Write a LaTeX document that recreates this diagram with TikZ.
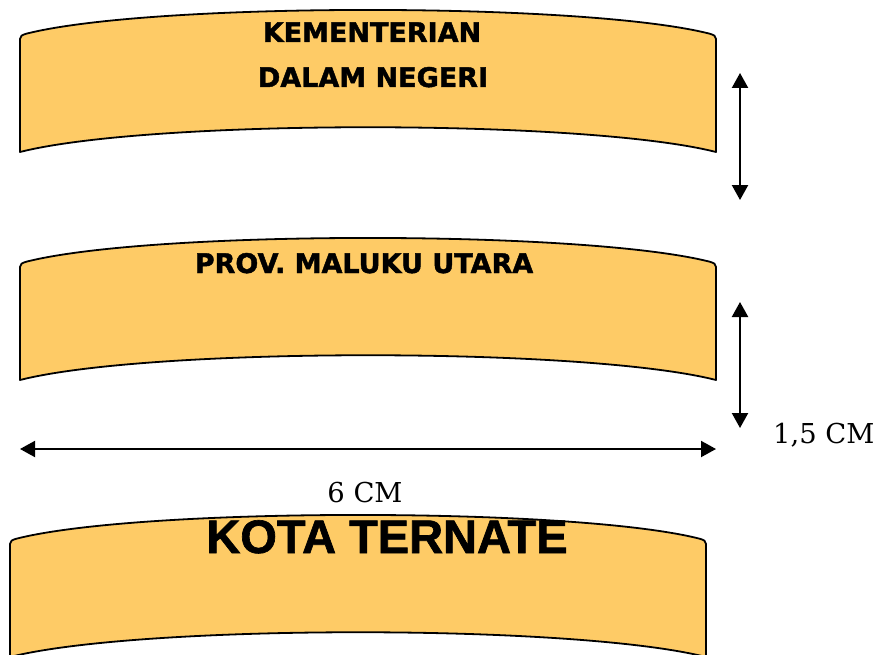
\documentclass[tikz,border=0pt]{standalone}
\usepackage{fontspec}
\usepackage{tikz}
\usetikzlibrary{arrows.meta,calc}

\newfontfamily\bannerfont[BoldFeatures={FakeBold=1.6}]{DejaVu Sans}
\newfontfamily\cityfont[BoldFeatures={FakeBold=1.4}]{Liberation Sans}
\newfontfamily\sizefont{DejaVu Serif}

\definecolor{bannerfill}{RGB}{254,203,102}

% Banner: left x, top corner y, width
\newcommand{\banner}[3]{%
  \filldraw[banner]
    (#1,#2+117) -- (#1,#2+4)
    .. controls (#1,#2+1) and (#1+2,#2) .. (#1+6,#2-1.2)
    .. controls (#1+130,#2-33) and (#1+#3-130,#2-33) .. (#1+#3-6,#2-1.2)
    .. controls (#1+#3-2,#2) and (#1+#3,#2+1) .. (#1+#3,#2+4)
    -- (#1+#3,#2+117)
    .. controls (#1+#3-130,#2+84) and (#1+130,#2+84) .. (#1,#2+117)
    -- cycle;}

\tikzset{
  banner/.style={fill=bannerfill,draw=black,line width=1.8pt,line join=round},
  title/.style={font=\bannerfont\bfseries\fontsize{27}{30}\selectfont,inner sep=0pt,anchor=base},
  measure/.style={line width=2.2pt,{Triangle[width=16pt,length=15pt]}-{Triangle[width=16pt,length=15pt]}},
  size/.style={font=\sizefont\fontsize{27.4}{30}\selectfont,inner sep=0pt}
}

\begin{document}
\begin{tikzpicture}[x=1pt,y=-1pt]
\useasboundingbox (0,0) rectangle (877,655);

% Banners
\banner{20}{35}{696}
\banner{20}{263}{696}
\banner{10}{540}{696}

% Banner texts
\node[title] (kemenText) at (372,42) {KEMENTERIAN};
\node[title] (dalamText) at (373,87) {DALAM NEGERI};
\node[title] (provText) at (364,273) {PROV. MALUKU UTARA};
\node[title,font=\cityfont\bfseries\fontsize{47}{50}\selectfont] (kotaText) at (387,553) {KOTA TERNATE};

% Height arrows
\coordinate (upperTop) at (740,73);
\coordinate (upperBot) at (740,200);
\coordinate (lowerTop) at (740,302);
\coordinate (lowerBot) at (740,428);
\draw[measure] (upperTop) -- (upperBot);
\draw[measure] (lowerTop) -- (lowerBot);
\node[size,anchor=base west] (heightLabel) at (773,443) {1,5 CM};

% Width arrow
\coordinate (widthLeft) at (20,449);
\coordinate (widthRight) at (716,449);
\draw[measure,line width=2pt] (widthLeft) -- (widthRight);
\node[size,anchor=base] (widthLabel) at (365,502) {6 CM};

\end{tikzpicture}
\end{document}
